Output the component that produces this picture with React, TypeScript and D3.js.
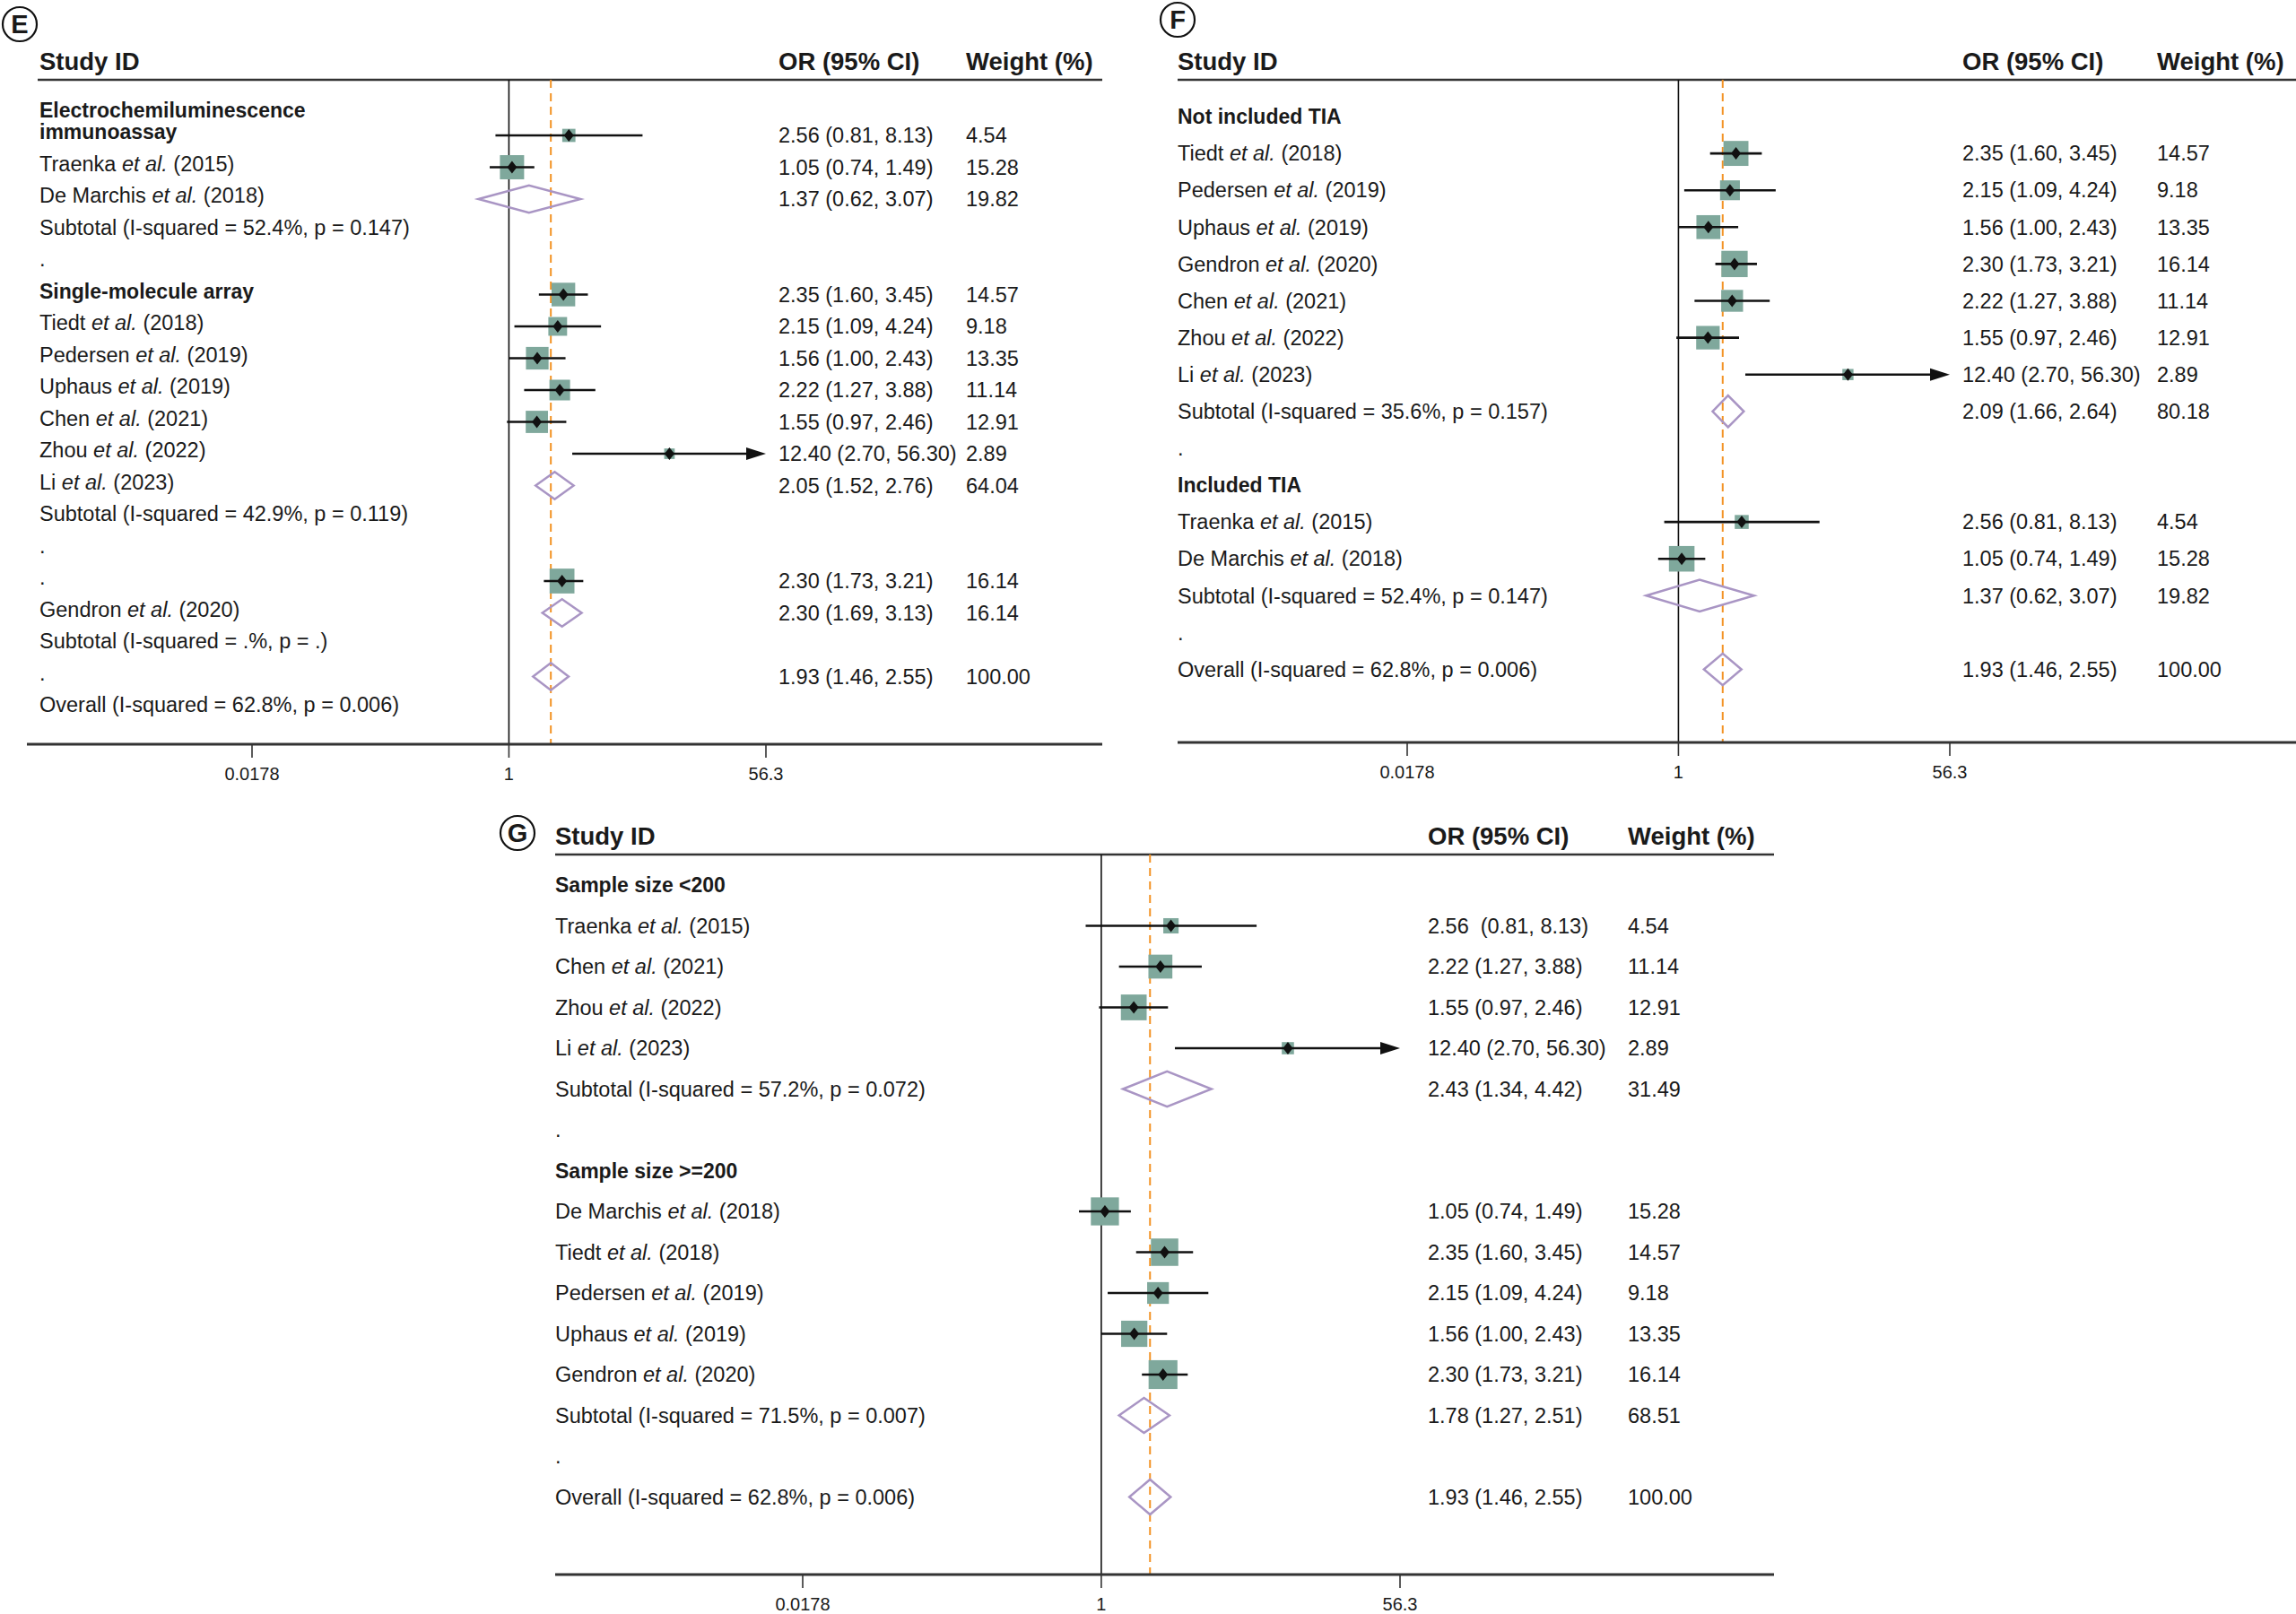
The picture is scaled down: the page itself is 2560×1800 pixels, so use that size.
import React from "react";
import * as d3 from "d3";

const FONT = "'Liberation Sans', Arial, Helvetica, sans-serif";

const TICKS = [0.0178, 1, 56.3];
const TICK_LABELS = ["0.0178", "1", "56.3"];
const OVERALL_OR = 1.93;

const SQUARE = "#7fa89c";
const DIAMOND = "#a995c4";
const ORANGE = "#f39325";

type Study = { row: number; or: number; lo: number; hi: number; w: number; pooled?: boolean; gap?: boolean };

// E: by assay. In the source figure the labels sit one row below their numbers, kept as is.
const eLabels: [string, boolean][] = [
  ["Electrochemiluminescence\nimmunoassay", true],
  ["Traenka et al. (2015)", false],
  ["De Marchis et al. (2018)", false],
  ["Subtotal (I-squared = 52.4%, p = 0.147)", false],
  [".", false],
  ["Single-molecule array", true],
  ["Tiedt et al. (2018)", false],
  ["Pedersen et al. (2019)", false],
  ["Uphaus et al. (2019)", false],
  ["Chen et al. (2021)", false],
  ["Zhou et al. (2022)", false],
  ["Li et al. (2023)", false],
  ["Subtotal (I-squared = 42.9%, p = 0.119)", false],
  [".", false],
  [".", false],
  ["Gendron et al. (2020)", false],
  ["Subtotal (I-squared = .%, p = .)", false],
  [".", false],
  ["Overall (I-squared = 62.8%, p = 0.006)", false],
];
const eStudies: Study[] = [
  { row: 0, or: 2.56, lo: 0.81, hi: 8.13, w: 4.54 },
  { row: 1, or: 1.05, lo: 0.74, hi: 1.49, w: 15.28 },
  { row: 2, or: 1.37, lo: 0.62, hi: 3.07, w: 19.82, pooled: true },
  { row: 5, or: 2.35, lo: 1.6, hi: 3.45, w: 14.57 },
  { row: 6, or: 2.15, lo: 1.09, hi: 4.24, w: 9.18 },
  { row: 7, or: 1.56, lo: 1.0, hi: 2.43, w: 13.35 },
  { row: 8, or: 2.22, lo: 1.27, hi: 3.88, w: 11.14 },
  { row: 9, or: 1.55, lo: 0.97, hi: 2.46, w: 12.91 },
  { row: 10, or: 12.4, lo: 2.7, hi: 56.3, w: 2.89 },
  { row: 11, or: 2.05, lo: 1.52, hi: 2.76, w: 64.04, pooled: true },
  { row: 14, or: 2.3, lo: 1.73, hi: 3.21, w: 16.14 },
  { row: 15, or: 2.3, lo: 1.69, hi: 3.13, w: 16.14, pooled: true },
  { row: 17, or: 1.93, lo: 1.46, hi: 2.55, w: 100, pooled: true },
];

// F: TIA included or not
const fLabels: [string, boolean][] = [
  ["Not included TIA", true],
  ["Tiedt et al. (2018)", false],
  ["Pedersen et al. (2019)", false],
  ["Uphaus et al. (2019)", false],
  ["Gendron et al. (2020)", false],
  ["Chen et al. (2021)", false],
  ["Zhou et al. (2022)", false],
  ["Li et al. (2023)", false],
  ["Subtotal (I-squared = 35.6%, p = 0.157)", false],
  [".", false],
  ["Included TIA", true],
  ["Traenka et al. (2015)", false],
  ["De Marchis et al. (2018)", false],
  ["Subtotal (I-squared = 52.4%, p = 0.147)", false],
  [".", false],
  ["Overall (I-squared = 62.8%, p = 0.006)", false],
];
const fStudies: Study[] = [
  { row: 1, or: 2.35, lo: 1.6, hi: 3.45, w: 14.57 },
  { row: 2, or: 2.15, lo: 1.09, hi: 4.24, w: 9.18 },
  { row: 3, or: 1.56, lo: 1.0, hi: 2.43, w: 13.35 },
  { row: 4, or: 2.3, lo: 1.73, hi: 3.21, w: 16.14 },
  { row: 5, or: 2.22, lo: 1.27, hi: 3.88, w: 11.14 },
  { row: 6, or: 1.55, lo: 0.97, hi: 2.46, w: 12.91 },
  { row: 7, or: 12.4, lo: 2.7, hi: 56.3, w: 2.89 },
  { row: 8, or: 2.09, lo: 1.66, hi: 2.64, w: 80.18, pooled: true },
  { row: 11, or: 2.56, lo: 0.81, hi: 8.13, w: 4.54 },
  { row: 12, or: 1.05, lo: 0.74, hi: 1.49, w: 15.28 },
  { row: 13, or: 1.37, lo: 0.62, hi: 3.07, w: 19.82, pooled: true },
  { row: 15, or: 1.93, lo: 1.46, hi: 2.55, w: 100, pooled: true },
];

// G: sample size
const gLabels: [string, boolean][] = [
  ["Sample size <200", true],
  ["Traenka et al. (2015)", false],
  ["Chen et al. (2021)", false],
  ["Zhou et al. (2022)", false],
  ["Li et al. (2023)", false],
  ["Subtotal (I-squared = 57.2%, p = 0.072)", false],
  [".", false],
  ["Sample size >=200", true],
  ["De Marchis et al. (2018)", false],
  ["Tiedt et al. (2018)", false],
  ["Pedersen et al. (2019)", false],
  ["Uphaus et al. (2019)", false],
  ["Gendron et al. (2020)", false],
  ["Subtotal (I-squared = 71.5%, p = 0.007)", false],
  [".", false],
  ["Overall (I-squared = 62.8%, p = 0.006)", false],
];
const gStudies: Study[] = [
  { row: 1, or: 2.56, lo: 0.81, hi: 8.13, w: 4.54, gap: true },
  { row: 2, or: 2.22, lo: 1.27, hi: 3.88, w: 11.14 },
  { row: 3, or: 1.55, lo: 0.97, hi: 2.46, w: 12.91 },
  { row: 4, or: 12.4, lo: 2.7, hi: 56.3, w: 2.89 },
  { row: 5, or: 2.43, lo: 1.34, hi: 4.42, w: 31.49, pooled: true },
  { row: 8, or: 1.05, lo: 0.74, hi: 1.49, w: 15.28 },
  { row: 9, or: 2.35, lo: 1.6, hi: 3.45, w: 14.57 },
  { row: 10, or: 2.15, lo: 1.09, hi: 4.24, w: 9.18 },
  { row: 11, or: 1.56, lo: 1.0, hi: 2.43, w: 13.35 },
  { row: 12, or: 2.3, lo: 1.73, hi: 3.21, w: 16.14 },
  { row: 13, or: 1.78, lo: 1.27, hi: 2.51, w: 68.51, pooled: true },
  { row: 15, or: 1.93, lo: 1.46, hi: 2.55, w: 100, pooled: true },
];

const rich = (s: string) => {
  const i = s.indexOf("et al.");
  if (i < 0) return s;
  return (
    <>
      {s.slice(0, i)}
      <tspan fontStyle="italic">et al.</tspan>
      {s.slice(i + 6)}
    </>
  );
};

const Panel = ({ letter, labels, studies, g }: any) => {
  const x = d3.scaleLog().domain([TICKS[0], TICKS[2]]).range(g.xr);
  const y = d3.scaleLinear().domain([0, 1]).range([g.row0, g.row0 + g.step]);
  const h = g.step * 0.43;
  const xMax = x(TICKS[2]);
  const fmt = d3.format(".2f");

  return (
    <g fontFamily={FONT} fill="#1a1a1a">
      <circle cx={g.badge[0]} cy={g.badge[1]} r={19} fill="none" stroke="#111" strokeWidth={2.2} />
      <text x={g.badge[0]} y={g.badge[1]} dy="0.36em" textAnchor="middle" fontWeight="bold" fontSize={29}>
        {letter}
      </text>

      <g fontWeight="bold" fontSize={27.5}>
        <text x={g.textX} y={g.headY}>Study ID</text>
        <text x={g.orX} y={g.headY}>OR (95% CI)</text>
        <text x={g.wX} y={g.headY}>Weight (%)</text>
      </g>
      <line x1={g.ruleX[0]} x2={g.ruleX[1]} y1={g.ruleY} y2={g.ruleY} stroke="#333" strokeWidth={2.5} />

      {/* null line and overall estimate */}
      <line x1={x(1)} x2={x(1)} y1={g.ruleY} y2={g.axisY} stroke="#111" strokeWidth={1.6} />
      <line x1={x(OVERALL_OR)} x2={x(OVERALL_OR)} y1={g.ruleY} y2={g.axisY} stroke={ORANGE} strokeWidth={2} strokeDasharray="9,6" />

      {labels.map(([t, bold]: [string, boolean], i: number) => {
        const lines = t.split("\n");
        return (
          <text key={i} x={g.textX} y={y(i) + g.labelDy} fontSize={bold ? 23 : 23.5} fontWeight={bold ? "bold" : "normal"}>
            {lines.map((l, j) => (
              <tspan key={j} x={g.textX} y={y(i) + g.labelDy - (lines.length - 1 - j) * 24} dy="0.35em">
                {rich(l)}
              </tspan>
            ))}
          </text>
        );
      })}

      {studies.map((d: Study, i: number) => {
        const cy = y(d.row);
        const cx = x(d.or);
        const txt = fmt(d.or) + (d.gap ? "  (" : " (") + fmt(d.lo) + ", " + fmt(d.hi) + ")";
        const labelsTxt = (
          <>
            <text x={g.orX} y={cy} dy="0.35em" fontSize={23.5} style={{ whiteSpace: "pre" }}>{txt}</text>
            <text x={g.wX} y={cy} dy="0.35em" fontSize={23.5}>{fmt(d.w)}</text>
          </>
        );
        if (d.pooled) {
          const pts = [[x(d.lo), cy], [cx, cy - h], [x(d.hi), cy], [cx, cy + h]];
          return (
            <g key={i}>
              <path d={"M" + pts.map((p) => p.join(",")).join("L") + "Z"} fill="none" stroke={DIAMOND} strokeWidth={2.5} />
              {labelsTxt}
            </g>
          );
        }
        const side = g.sq * Math.sqrt(d.w);
        const arrow = d.hi >= TICKS[2] - 1e-6;
        const x2 = arrow ? xMax - 20 : x(d.hi);
        return (
          <g key={i}>
            <rect x={cx - side / 2} y={cy - side / 2} width={side} height={side} fill={SQUARE} />
            <line x1={x(d.lo)} x2={x2} y1={cy} y2={cy} stroke="#111" strokeWidth={2.6} />
            {arrow && <path d={`M${xMax},${cy}L${xMax - 22},${cy - 7}L${xMax - 22},${cy + 7}Z`} fill="#111" />}
            <path d={`M${cx},${cy - 7}L${cx + 5.5},${cy}L${cx},${cy + 7}L${cx - 5.5},${cy}Z`} fill="#111" />
            {labelsTxt}
          </g>
        );
      })}

      {/* x axis */}
      <line x1={g.axisX[0]} x2={g.axisX[1]} y1={g.axisY} y2={g.axisY} stroke="#333" strokeWidth={3} />
      {TICKS.map((t, i) => (
        <g key={i}>
          <line x1={x(t)} x2={x(t)} y1={g.axisY} y2={g.axisY + 15} stroke="#333" strokeWidth={1.6} />
          <text x={x(t)} y={g.axisY + 40} textAnchor="middle" fontSize={20}>
            {TICK_LABELS[i]}
          </text>
        </g>
      ))}
    </g>
  );
};

const eGeom = {
  textX: 44, orX: 868, wX: 1077, headY: 78, ruleY: 89, ruleX: [42, 1229],
  axisY: 830, axisX: [30, 1229], xr: [281, 854], row0: 151, step: 35.5, labelDy: -4, sq: 6.9, badge: [22, 27],
};
const fGeom = {
  textX: 1313, orX: 2188, wX: 2405, headY: 78, ruleY: 89, ruleX: [1313, 2560],
  axisY: 828, axisX: [1313, 2560], xr: [1569, 2174], row0: 130, step: 41.1, labelDy: 0, sq: 7.3, badge: [1313, 22],
};
const gGeom = {
  textX: 619, orX: 1592, wX: 1815, headY: 942, ruleY: 953, ruleX: [619, 1978],
  axisY: 1756, axisX: [619, 1978], xr: [895, 1561], row0: 987, step: 45.5, labelDy: 0, sq: 8.0, badge: [577, 929],
};

export default function App() {
  return (
    <svg width={2560} height={1800} style={{ position: "absolute", left: 0, top: 0, background: "#fff" }}>
      <rect width={2560} height={1800} fill="#fff" />
      <Panel letter="E" labels={eLabels} studies={eStudies} g={eGeom} />
      <Panel letter="F" labels={fLabels} studies={fStudies} g={fGeom} />
      <Panel letter="G" labels={gLabels} studies={gStudies} g={gGeom} />
    </svg>
  );
}
